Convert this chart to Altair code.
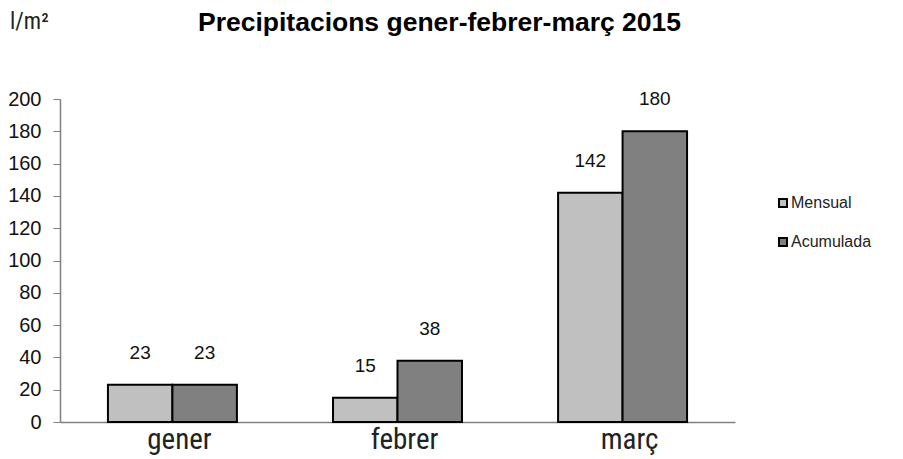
import altair as alt
import pandas as pd

months = ["gener", "febrer", "març"]
mensual = [23, 15, 142]
acumulada = [23, 38, 180]
series = ["Mensual", "Acumulada"]
colors = ["#c0c0c0", "#808080"]
y_ticks = [0, 20, 40, 60, 80, 100, 120, 140, 160, 180, 200]

rows = []
for m, a, b in zip(months, mensual, acumulada):
    rows.append({"mes": m, "serie": "Mensual", "valor": a})
    rows.append({"mes": m, "serie": "Acumulada", "valor": b})
df = pd.DataFrame(rows)

NARROW = "Liberation Sans Narrow, Arial Narrow, Roboto Condensed, Liberation Sans, sans-serif"
SANS = "Liberation Sans, Arial, sans-serif"

x = alt.X("mes:N", sort=months, title=None,
          scale=alt.Scale(paddingInner=0.427, paddingOuter=0.213),
          axis=alt.Axis(labelAngle=0, labelFontSize=29, labelFont=NARROW,
                        labelColor="#222", ticks=False, domainColor="#808080",
                        domainWidth=1.5, labelPadding=3, labelOffset=7))
xo = alt.XOffset("serie:N", sort=series)

y = alt.Y("valor:Q", scale=alt.Scale(domain=[0, 200]),
          axis=alt.Axis(values=y_ticks, grid=False, title=None,
                        labelOverlap=False, tickCount=11,
                        labelFont=SANS, labelFontSize=20,
                        labelColor="#111", labelPadding=12, tickSize=7,
                        tickColor="#808080", domainColor="#808080", domainWidth=1.5))

bars = alt.Chart(df).mark_bar(stroke="black", strokeWidth=2).encode(
    x=x, xOffset=xo, y=y,
    color=alt.Color("serie:N", sort=series,
                    scale=alt.Scale(domain=series, range=colors),
                    legend=alt.Legend(title=None, orient="none", legendX=715, legendY=96,
                                      symbolType="square", symbolSize=64,
                                      symbolStrokeColor="black", symbolStrokeWidth=2,
                                      labelFont=SANS,
                                      labelFontSize=16, labelColor="#222",
                                      rowPadding=23, labelOffset=0)),
)

labels = alt.Chart(df).mark_text(fontSize=19, dy=-22, baseline="bottom",
                                 font=SANS, color="#111").encode(
    x=x, xOffset=xo, y=y, text="valor:Q")

unit = alt.Chart(pd.DataFrame({"t": ["l/m²"]})).mark_text(
    font=NARROW, fontSize=23, align="left", baseline="alphabetic", color="#222"
).encode(x=alt.value(-50), y=alt.value(-70), text="t:N")

chart = alt.layer(bars, labels, unit).properties(
    width=675, height=323,
    background="white",
    view=alt.ViewBackground(stroke="transparent", strokeWidth=0),
    autosize=alt.AutoSizeParams(type="none"),
    padding={"left": 52, "top": 91, "right": 150, "bottom": 36},
    title=alt.Title("Precipitacions gener-febrer-març 2015", anchor="middle",
                    frame="group", dx=42, offset=-46, baseline="alphabetic",
                    font=SANS, fontSize=26.5,
                    fontWeight="bold", color="#000"),
).configure_view(stroke="transparent", strokeWidth=0)

chart.save("out.html", embed_options={"renderer": "svg", "actions": False})
